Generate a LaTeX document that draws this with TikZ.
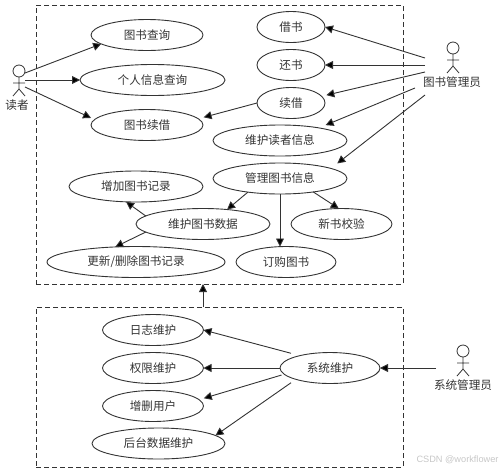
\documentclass[tikz,border=0pt]{standalone}
\usepackage{fontspec}
\setmainfont{Noto Sans CJK SC}
\newfontfamily\markfont{Liberation Sans}
\usetikzlibrary{arrows.meta, shapes.geometric}
\definecolor{inkgray}{HTML}{333333}
\tikzset{
    usecase/.style={draw=inkgray, line width=0.9pt, ellipse, inner sep=0pt, outer sep=0pt, minimum height=31pt, text=inkgray, font=\fontsize{11.6}{12}\selectfont},
    actorname/.style={inner sep=0pt, text=inkgray, font=\fontsize{11.6}{12}\selectfont},
    sysbox/.style={draw=inkgray, line width=0.9pt, dashed, dash pattern=on 5pt off 3pt, inner sep=0pt, outer sep=0pt},
    link/.style={draw=inkgray, line width=0.9pt, -{Triangle[length=8pt,width=8pt,fill=black]}},
    pics/stickman/.style={code={
        \draw[inkgray, line width=0.8pt] (0,0) circle (6pt);
        \draw[inkgray, line width=0.8pt] (0,6) -- (0,18) (-6,12) -- (6,12) (-6,25) -- (0,18) -- (6,25);
    }}
}
\begin{document}
\begin{tikzpicture}[x=1pt, y=-1pt]
    \useasboundingbox (0,0) rectangle (500,469);

    % Cadres pointilles
    \node[sysbox, minimum width=367pt, minimum height=279pt] (libbox) at (219.5,144.5) {};
    \node[sysbox, minimum width=367pt, minimum height=160pt] (adminbox) at (219.5,387) {};

    % Acteurs
    \pic at (19,71) {stickman};
    \node[actorname] (reader) at (17,105) {读者};
    \pic at (453,48) {stickman};
    \node[actorname] (librarian) at (452,82) {图书管理员};
    \pic at (463,351) {stickman};
    \node[actorname] (sysadmin) at (463,385) {系统管理员};

    % Cas d'utilisation, lecteur
    \node[usecase, minimum width=112pt] (query) at (147,35) {图书查询};
    \node[usecase, minimum width=145pt] (info) at (152.5,80) {个人信息查询};
    \node[usecase, minimum width=112pt] (renewbook) at (147,125) {图书续借};

    % Cas d'utilisation, bibliothecaire
    \node[usecase, minimum width=68pt] (borrow) at (291,27) {借书};
    \node[usecase, minimum width=68pt] (giveback) at (291,65) {还书};
    \node[usecase, minimum width=68pt] (renew) at (291,103) {续借};
    \node[usecase, minimum width=134pt] (readerinfo) at (280,140.5) {维护读者信息};
    \node[usecase, minimum width=134pt] (bookinfo) at (280,178.5) {管理图书信息};
    \node[usecase, minimum width=134pt] (addrecord) at (136,186.5) {增加图书记录};
    \node[usecase, minimum width=134pt] (bookdata) at (203,224) {维护图书数据};
    \node[usecase, minimum width=101pt] (check) at (341.5,224) {新书校验};
    \node[usecase, minimum width=178pt] (update) at (136,262) {更新/删除图书记录};
    \node[usecase, minimum width=100pt] (order) at (286,262) {订购图书};

    % Cas d'utilisation, administrateur
    \node[usecase, minimum width=101pt] (logs) at (153,330) {日志维护};
    \node[usecase, minimum width=101pt] (rights) at (153,368) {权限维护};
    \node[usecase, minimum width=101pt] (users) at (153,406) {增删用户};
    \node[usecase, minimum width=133pt] (backend) at (158.5,443.5) {后台数据维护};
    \node[usecase, minimum width=100pt] (sysmaint) at (330,368) {系统维护};

    % Departs libres des fleches
    \coordinate (readerA) at (25,73);
    \coordinate (readerB) at (25,80);
    \coordinate (readerC) at (25,87);
    \coordinate (libA) at (425,58);
    \coordinate (libB) at (425,65);
    \coordinate (libC) at (425,72);
    \coordinate (libD) at (415,88);
    \coordinate (libE) at (425,95);
    \coordinate (adminA) at (436,368);

    % Fleches du lecteur
    \draw[link] (readerA) -- (query.191);
    \draw[link] (readerB) -- (info.west);
    \draw[link] (readerC) -- ([xshift=-6pt]renewbook.172);

    % Fleches du bibliothecaire
    \draw[link] (libA) -- (borrow.east);
    \draw[link] (libB) -- (giveback.east);
    \draw[link] (libC) -- ([xshift=6pt]renew.15);
    \draw[link] (libD) -- ([yshift=4pt]readerinfo.14);
    \draw[link] (libE) -- ([yshift=7pt]bookinfo.8);
    \draw[link] (renew.west) -- ([xshift=8pt]renewbook.9.5);

    % Fleches entre cas
    \draw[link] (bookinfo.203) -- (bookdata.31);
    \draw[link] (bookinfo.south) -- (bookinfo.south |- order.north);
    \draw[link] (bookinfo.-22) -- (check.100);
    \draw[link] (bookdata.172) -- (addrecord.237);
    \draw[link] (bookdata.188) -- (update.144);
    \draw[link] (bookdata |- adminbox.north) -- (bookdata |- libbox.south);

    % Fleches de l'administrateur
    \draw[link] (adminA) -- (sysmaint.east);
    \draw[link] ([yshift=5pt]sysmaint.166) -- (logs.east);
    \draw[link] (sysmaint.west) -- (rights.east);
    \draw[link] ([xshift=-4pt]sysmaint.189) -- ([xshift=7pt]users.10.5);
    \draw[link] ([yshift=-5pt]sysmaint.194) -- (backend.8);

    % Filigrane
    \node[inner sep=0pt, text=black!22, font=\markfont\fontsize{9.2}{10}\selectfont] (mark) at (457.5,460) {CSDN @workflower};
\end{tikzpicture}
\end{document}
